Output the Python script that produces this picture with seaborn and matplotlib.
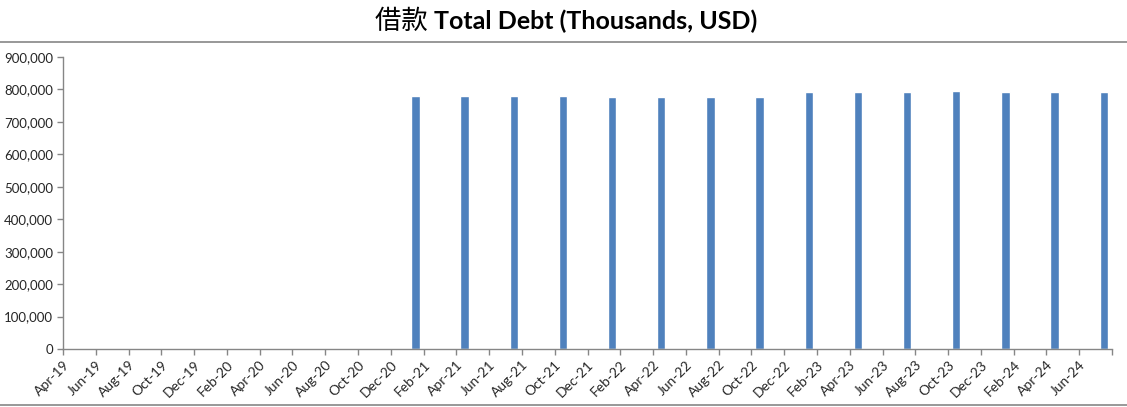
import pandas as pd
import matplotlib.pyplot as plt
import matplotlib.ticker as mticker
import matplotlib.transforms as mtransforms
from matplotlib.lines import Line2D
import seaborn as sns

# quarterly total debt, thousands USD
quarters = ["2021-01", "2021-04", "2021-07", "2021-10",
            "2022-01", "2022-04", "2022-07", "2022-10",
            "2023-01", "2023-04", "2023-07", "2023-10",
            "2024-01", "2024-04", "2024-07"]
debt = [780700, 780700, 780700, 780700,
        777600, 777600, 777600, 777600,
        793000, 793000, 793000, 796100,
        793000, 793000, 793000]

axis_start = "2019-04"
axis_end = "2024-07"
y_ticks = [0, 100000, 200000, 300000, 400000, 500000, 600000, 700000, 800000, 900000]

BLUE = "#4F81BD"
GREY = "#868686"


def month_index(p):
    start = pd.Period(axis_start, "M")
    return (pd.Period(p, "M") - start).n


sns.set_style("white")
plt.rcParams["font.family"] = ["Lato", "Noto Sans CJK SC", "DejaVu Sans"]

df = pd.DataFrame({"quarter": quarters, "debt": debt})
# bars sit in the middle of their month slot, like an Excel date axis
df["slot"] = [month_index(q) + 0.5 for q in df["quarter"]]

fig = plt.figure(figsize=(11.27, 4.07), dpi=100)
ax = fig.add_axes([63 / 1127, 1 - 349 / 407, (1112 - 63) / 1127, (349 - 57) / 407])

sns.barplot(data=df, x="slot", y="debt", native_scale=True, width=0.17,
            color=BLUE, saturation=1, ax=ax)

n_months = month_index(axis_end) + 1
ax.set_xlim(0, n_months)
ax.set_ylim(0, 900000)

# x ticks every two months, labelled with the month at the slot start
months = pd.period_range(axis_start, axis_end, freq="M")
tick_pos = list(range(0, n_months + 1, 2))
tick_lab = [months[i].strftime("%b-%y") if i < len(months) else "" for i in tick_pos]
ax.set_xticks(tick_pos)
ax.set_xticklabels(tick_lab, rotation=45, ha="right", va="top",
                   rotation_mode="anchor", fontsize=10, color="#262626")
shift = mtransforms.ScaledTranslation(9 / 100, 0, fig.dpi_scale_trans)
for lab in ax.get_xticklabels():
    lab.set_transform(lab.get_transform() + shift)

ax.set_yticks(y_ticks)
ax.yaxis.set_major_formatter(mticker.FuncFormatter(lambda v, _: f"{v:,.0f}"))
ax.tick_params(axis="y", labelsize=9.5, labelcolor="#262626", length=4,
               color=GREY, width=1, direction="out", left=True, pad=3)
ax.tick_params(axis="x", length=4, color=GREY, width=1, direction="out",
               bottom=True, pad=3)

ax.set_xlabel("")
ax.set_ylabel("")
sns.despine(ax=ax)
for side in ["left", "bottom"]:
    ax.spines[side].set_color(GREY)
    ax.spines[side].set_linewidth(1)

# title: Chinese part in regular weight, English part bold
fig.canvas.draw()
r = fig.canvas.get_renderer()
t1 = fig.text(0, 1 - 21 / 407, "借款 ", fontsize=19, va="center",
              family=["Noto Sans CJK SC"], color="black")
t2 = fig.text(0, 1 - 21 / 407, "Total Debt (Thousands, USD)", fontsize=18,
              fontweight="bold", va="center", color="black")
w1 = t1.get_window_extent(r).width
w2 = t2.get_window_extent(r).width
x0 = 566 - (w1 + w2) / 2
t1.set_x(x0 / 1127)
t2.set_x((x0 + w1) / 1127)

# grey rules under the title and at the bottom
fig.add_artist(Line2D([0, 1], [1 - 42 / 407] * 2, color=GREY, lw=1.2,
                      transform=fig.transFigure))
fig.add_artist(Line2D([0, 1], [1 - 405 / 407] * 2, color=GREY, lw=1.2,
                      transform=fig.transFigure))

fig.savefig("out.png", dpi=100)
